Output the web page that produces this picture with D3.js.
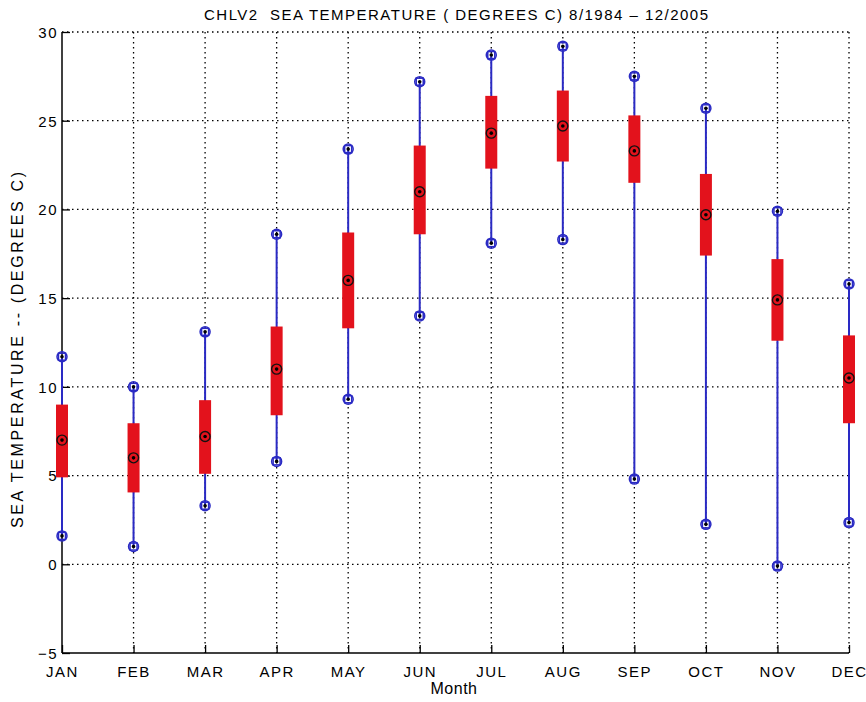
<!DOCTYPE html>
<html><head><meta charset="utf-8">
<script src="https://cdn.jsdelivr.net/npm/d3@7"></script>
<style>
html,body{margin:0;padding:0;background:#fff;}
svg text{font-family:"Liberation Sans",Arial,Helvetica,sans-serif;fill:#000;white-space:pre;}
</style></head>
<body><svg id="c" width="866" height="702"></svg>
<script>
const months = ["JAN","FEB","MAR","APR","MAY","JUN","JUL","AUG","SEP","OCT","NOV","DEC"];
const maxV   = [11.7, 10.0, 13.1, 18.6, 23.4, 27.2, 28.7, 29.2, 27.5, 25.7, 19.9, 15.8];
const q3V    = [9.0, 7.95, 9.25, 13.4, 18.7, 23.6, 26.4, 26.7, 25.3, 22.0, 17.2, 12.9];
const medV   = [7.0, 6.0, 7.2, 11.0, 16.0, 21.0, 24.3, 24.7, 23.3, 19.7, 14.9, 10.5];
const q1V    = [4.9, 4.05, 5.1, 8.4, 13.3, 18.6, 22.3, 22.7, 21.5, 17.4, 12.6, 7.95];
const minV   = [1.6, 1.0, 3.3, 5.8, 9.3, 14.0, 18.1, 18.3, 4.8, 2.25, -0.1, 2.35];
const yTicks = [-5, 0, 5, 10, 15, 20, 25, 30];
const titleText = "CHLV2  SEA TEMPERATURE ( DEGREES C) 8/1984 \u2013 12/2005";
const xLabel = "Month";
const yLabel = "SEA TEMPERATURE -- (DEGREES C)";

const L = 62, R = 849, T = 32, B = 653;
const svg = d3.select("#c");
const x = d3.scalePoint().domain(months).range([L, R]).padding(0);
const y = d3.scaleLinear().domain([-5, 30]).range([B, T]);

const data = months.map((m, i) => ({m, max: maxV[i], q3: q3V[i], med: medV[i], q1: q1V[i], min: minV[i]}));

// grid
const grid = svg.append("g").attr("stroke", "#000").attr("stroke-width", 1.3).attr("stroke-dasharray", "1.5,3.5");
grid.selectAll("line.h").data(yTicks.filter(t => t !== -5)).join("line")
  .attr("x1", L).attr("x2", R).attr("y1", d => y(d)).attr("y2", d => y(d));
grid.selectAll("line.v").data(months.slice(1)).join("line")
  .attr("y1", T).attr("y2", B).attr("x1", d => x(d)).attr("x2", d => x(d));

// axes
const yAxis = d3.axisLeft(y).tickValues(yTicks).tickSize(-8).tickPadding(4).tickFormat(d3.format("d"));
const gy = svg.append("g").attr("transform", `translate(${L},0)`).call(yAxis);
const xAxis = d3.axisBottom(x).tickSize(-8).tickPadding(13);
const gx = svg.append("g").attr("transform", `translate(0,${B})`).call(xAxis);
[gx, gy].forEach(g => {
  g.select(".domain").attr("stroke", "#000").attr("stroke-width", 1.5);
  g.selectAll(".tick line").attr("stroke", "#000").attr("stroke-width", 1.3);
  g.selectAll(".tick text").attr("font-size", 15).attr("letter-spacing", "1.5px")
   .style("font-family", '"Liberation Sans",Arial,sans-serif').attr("fill", "#000");
});
gy.select(".domain").attr("d", `M0,${B}V${T}`);
gx.select(".domain").attr("d", `M${L},0H${R}`);
gy.selectAll(".tick text").attr("dy", "0.36em");

// whiskers
const blue = "#2a2ac4", red = "#e3121c";
const plot = svg.append("g");
plot.selectAll("line.w").data(data).join("line")
  .attr("x1", d => x(d.m)).attr("x2", d => x(d.m))
  .attr("y1", d => y(d.max)).attr("y2", d => y(d.min))
  .attr("stroke", blue).attr("stroke-width", 2);
plot.selectAll("rect.b").data(data).join("rect")
  .attr("x", d => x(d.m) - 6).attr("width", 12)
  .attr("y", d => y(d.q3)).attr("height", d => y(d.q1) - y(d.q3))
  .attr("fill", red);

// whisker end markers
const ends = data.flatMap(d => [{m: d.m, v: d.max}, {m: d.m, v: d.min}]);
const em = plot.selectAll("g.e").data(ends).join("g")
  .attr("transform", d => `translate(${x(d.m)},${y(d.v)})`);
em.append("rect").attr("x", -3.5).attr("y", -3.5).attr("width", 7).attr("height", 7)
  .attr("fill", "none").attr("stroke", blue).attr("stroke-width", 1.5);
em.append("circle").attr("r", 5).attr("fill", "none").attr("stroke", blue).attr("stroke-width", 1.5);
em.append("circle").attr("r", 1.8).attr("fill", "#000");

// median markers
const mm = plot.selectAll("g.md").data(data).join("g")
  .attr("transform", d => `translate(${x(d.m)},${y(d.med)})`);
mm.append("circle").attr("r", 5).attr("fill", "none").attr("stroke", "#111").attr("stroke-width", 1.4);
mm.append("circle").attr("r", 1.8).attr("fill", "#000");

// labels
svg.append("text").attr("x", 456).attr("y", 20).attr("text-anchor", "middle")
  .attr("font-size", 15).attr("textLength", 504).attr("lengthAdjust", "spacing").text(titleText);
svg.append("text").attr("x", 454).attr("y", 694).attr("text-anchor", "middle")
  .attr("font-size", 16).attr("letter-spacing", "0.5px").text(xLabel);
svg.append("text").attr("transform", `translate(23,350) rotate(-90)`)
  .attr("text-anchor", "middle").attr("font-size", 16)
  .attr("textLength", 356).attr("lengthAdjust", "spacing").text(yLabel);
</script></body></html>
